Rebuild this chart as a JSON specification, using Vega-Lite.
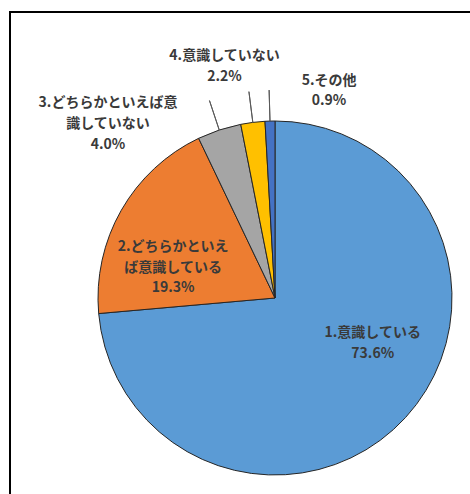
{
  "$schema": "https://vega.github.io/schema/vega-lite/v6.json",
  "width": 530,
  "height": 572,
  "autosize": {"type": "none"},
  "padding": {"left": 10, "top": 12, "right": 0, "bottom": 0},
  "background": "white",
  "config": {"view": {"stroke": null}},
  "data": {
    "values": [
      {"order": 1, "category": "1.意識している", "pct": 73.6, "lines": ["1.意識している", "73.6%"]},
      {"order": 2, "category": "2.どちらかといえば意識している", "pct": 19.3, "lines": ["2.どちらかといえ", "ば意識している", "19.3%"]},
      {"order": 3, "category": "3.どちらかといえば意識していない", "pct": 4.0, "lines": ["3.どちらかといえば意", "識していない", "4.0%"]},
      {"order": 4, "category": "4.意識していない", "pct": 2.2, "lines": ["4.意識していない", "2.2%"]},
      {"order": 5, "category": "5.その他", "pct": 0.9, "lines": ["5.その他", "0.9%"]}
    ]
  },
  "layer": [
    {
      "data": {"values": [{"frame": "frame"}]},
      "mark": {"type": "rect", "fill": "transparent", "stroke": "#000000", "strokeWidth": 2},
      "encoding": {}
    },
    {
      "encoding": {
        "theta": {"field": "pct", "type": "quantitative", "stack": true},
        "order": {"field": "order", "type": "quantitative"},
        "detail": {"field": "category", "type": "nominal"}
      },
      "layer": [
        {
          "mark": {"type": "arc", "radius": 177, "stroke": "#262626", "strokeWidth": 1},
          "encoding": {
            "color": {
              "field": "category",
              "type": "nominal",
              "scale": {
                "domain": ["1.意識している", "2.どちらかといえば意識している", "3.どちらかといえば意識していない", "4.意識していない", "5.その他"],
                "range": ["#5B9BD5", "#ED7D31", "#A5A5A5", "#FFC000", "#4472C4"]
              },
              "legend": null
            }
          }
        },
        {
          "mark": {"type": "arc", "radius": 208, "radius2": 177, "padAngle": 0.6, "fill": "transparent", "stroke": "#595959", "strokeWidth": 1},
          "encoding": {
            "strokeOpacity": {"condition": {"test": "datum.order >= 3", "value": 1}, "value": 0}
          }
        },
        {
          "mark": {"type": "text", "radius": 100, "dx": 24, "dy": -33, "align": "center", "baseline": "middle", "font": "Noto Sans CJK JP", "fontWeight": "bold", "fontSize": 14, "lineHeight": 21, "fill": "#3a3a3a"},
          "encoding": {"text": {"condition": {"test": "datum.order == 1", "field": "lines"}, "value": ""}}
        },
        {
          "mark": {"type": "text", "radius": 100, "dx": -15, "dy": -1, "align": "center", "baseline": "middle", "font": "Noto Sans CJK JP", "fontWeight": "bold", "fontSize": 14, "lineHeight": 20.5, "fill": "#3a3a3a"},
          "encoding": {"text": {"condition": {"test": "datum.order == 2", "field": "lines"}, "value": ""}}
        },
        {
          "mark": {"type": "text", "radius": 200, "dx": -104, "dy": -5, "align": "center", "baseline": "middle", "font": "Noto Sans CJK JP", "fontWeight": "bold", "fontSize": 14, "lineHeight": 21, "fill": "#3a3a3a"},
          "encoding": {"text": {"condition": {"test": "datum.order == 3", "field": "lines"}, "value": ""}}
        },
        {
          "mark": {"type": "text", "radius": 235, "dx": -21, "dy": -9, "align": "center", "baseline": "middle", "font": "Noto Sans CJK JP", "fontWeight": "bold", "fontSize": 14, "lineHeight": 21, "fill": "#3a3a3a"},
          "encoding": {"text": {"condition": {"test": "datum.order == 4", "field": "lines"}, "value": ""}}
        },
        {
          "mark": {"type": "text", "radius": 210, "dx": 60, "dy": -7, "align": "center", "baseline": "middle", "font": "Noto Sans CJK JP", "fontWeight": "bold", "fontSize": 14, "lineHeight": 20, "fill": "#3a3a3a"},
          "encoding": {"text": {"condition": {"test": "datum.order == 5", "field": "lines"}, "value": ""}}
        }
      ]
    }
  ]
}
